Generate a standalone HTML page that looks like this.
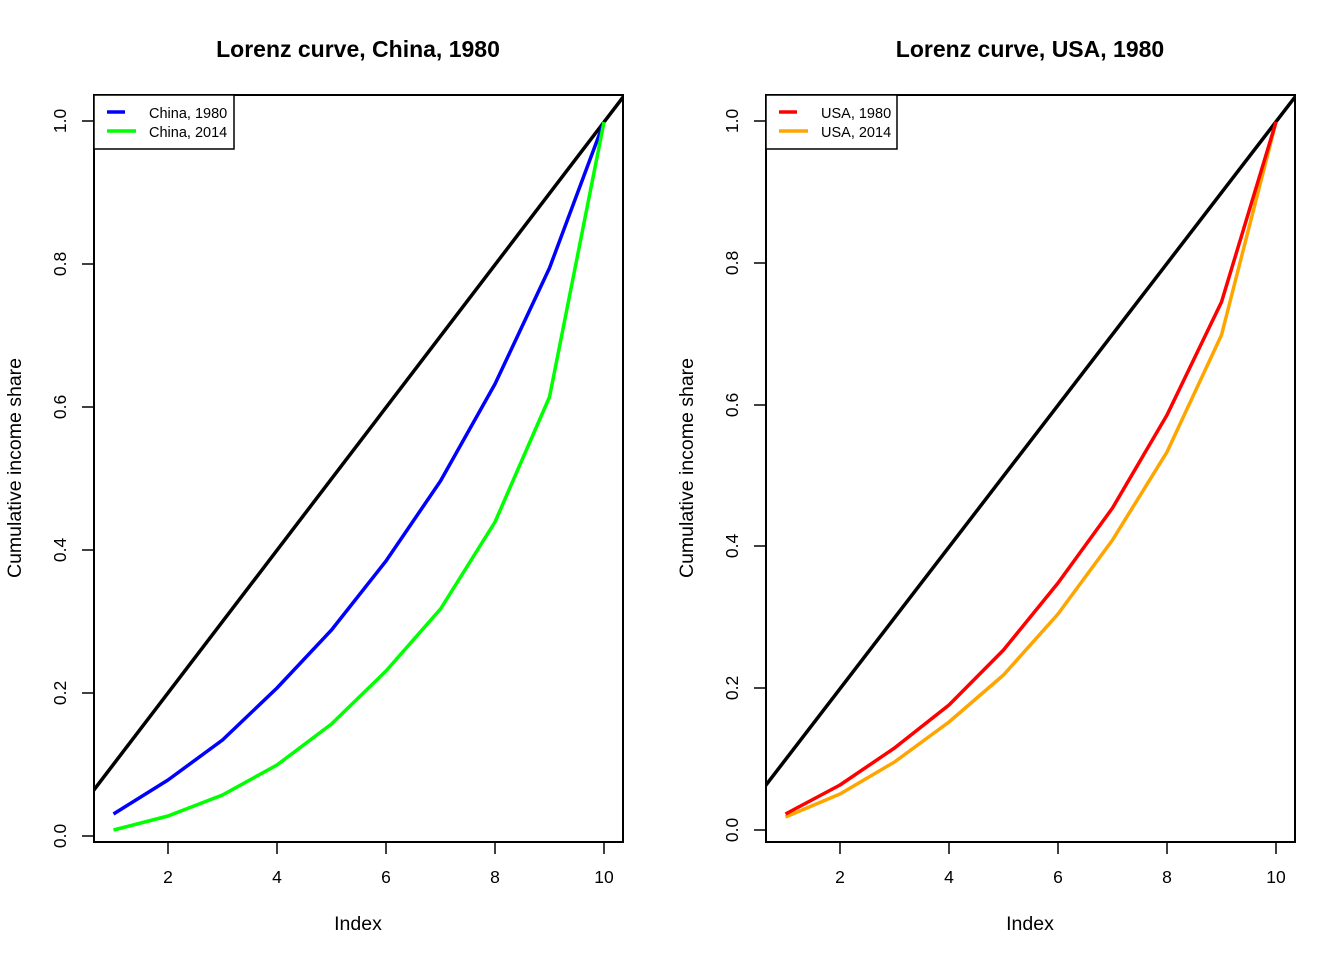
<!DOCTYPE html>
<html><head><style>body{margin:0;background:#fff}svg{display:block}</style></head><body>
<svg width="1344" height="960" xmlns="http://www.w3.org/2000/svg" font-family="Liberation Sans, Arial, sans-serif">
<defs>
<clipPath id="c1"><rect x="94" y="95" width="529" height="747"/></clipPath>
<clipPath id="c2"><rect x="766" y="95" width="529" height="747"/></clipPath>
</defs>
<g id="L">
<text x="358" y="57" font-size="23" font-weight="bold" text-anchor="middle">Lorenz curve, China, 1980</text>
<text x="358" y="930" font-size="19.5" text-anchor="middle">Index</text>
<text transform="translate(21,468) rotate(-90)" font-size="19.5" text-anchor="middle">Cumulative income share</text>
<g stroke="#000" stroke-width="1.5">
<line x1="168" y1="842" x2="168" y2="854"/><line x1="277" y1="842" x2="277" y2="854"/><line x1="386" y1="842" x2="386" y2="854"/><line x1="495" y1="842" x2="495" y2="854"/><line x1="604" y1="842" x2="604" y2="854"/>
<line x1="82" y1="836" x2="94" y2="836"/><line x1="82" y1="693" x2="94" y2="693"/><line x1="82" y1="550" x2="94" y2="550"/><line x1="82" y1="407" x2="94" y2="407"/><line x1="82" y1="264" x2="94" y2="264"/><line x1="82" y1="121" x2="94" y2="121"/>
</g>
<g font-size="17.5" text-anchor="middle">
<text x="168" y="883">2</text><text x="277" y="883">4</text><text x="386" y="883">6</text><text x="495" y="883">8</text><text x="604" y="883">10</text>
<text transform="translate(66,836) rotate(-90)">0.0</text><text transform="translate(66,693) rotate(-90)">0.2</text><text transform="translate(66,550) rotate(-90)">0.4</text><text transform="translate(66,407) rotate(-90)">0.6</text><text transform="translate(66,264) rotate(-90)">0.8</text><text transform="translate(66,121) rotate(-90)">1.0</text>
</g>
<g clip-path="url(#c1)" fill="none" stroke-width="3.5" stroke-linejoin="round">
<line x1="74" y1="816" x2="643" y2="71" stroke="#000"/>
<polyline stroke="#0000ff" points="113.5,814 168,780 222.5,740 277,688 331.5,630 386,561 440.5,481 495,384 549.5,268 604,122"/>
<polyline stroke="#00ff00" points="113.5,830 168,816 222.5,795 277,765 331.5,724 386,671 440.5,609 495,522 549.5,397 604,122"/>
</g>
<rect x="94" y="95" width="529" height="747" fill="none" stroke="#000" stroke-width="2"/>
<rect x="94" y="95" width="140" height="54" fill="#fff" stroke="#000" stroke-width="1.5"/>
<line x1="107" y1="112" x2="125" y2="112" stroke="#0000ff" stroke-width="3.5"/>
<line x1="107" y1="131" x2="136" y2="131" stroke="#00ff00" stroke-width="3.5"/>
<text x="149" y="118" font-size="14.5">China, 1980</text>
<text x="149" y="137" font-size="14.5">China, 2014</text>
</g>
<g id="R">
<text x="1030" y="57" font-size="23" font-weight="bold" text-anchor="middle">Lorenz curve, USA, 1980</text>
<text x="1030" y="930" font-size="19.5" text-anchor="middle">Index</text>
<text transform="translate(693,468) rotate(-90)" font-size="19.5" text-anchor="middle">Cumulative income share</text>
<g stroke="#000" stroke-width="1.5">
<line x1="840" y1="842" x2="840" y2="854"/><line x1="949" y1="842" x2="949" y2="854"/><line x1="1058" y1="842" x2="1058" y2="854"/><line x1="1167" y1="842" x2="1167" y2="854"/><line x1="1276" y1="842" x2="1276" y2="854"/>
<line x1="754" y1="830" x2="766" y2="830"/><line x1="754" y1="688" x2="766" y2="688"/><line x1="754" y1="546" x2="766" y2="546"/><line x1="754" y1="405" x2="766" y2="405"/><line x1="754" y1="263" x2="766" y2="263"/><line x1="754" y1="121" x2="766" y2="121"/>
</g>
<g font-size="17.5" text-anchor="middle">
<text x="840" y="883">2</text><text x="949" y="883">4</text><text x="1058" y="883">6</text><text x="1167" y="883">8</text><text x="1276" y="883">10</text>
<text transform="translate(738,830) rotate(-90)">0.0</text><text transform="translate(738,688) rotate(-90)">0.2</text><text transform="translate(738,546) rotate(-90)">0.4</text><text transform="translate(738,405) rotate(-90)">0.6</text><text transform="translate(738,263) rotate(-90)">0.8</text><text transform="translate(738,121) rotate(-90)">1.0</text>
</g>
<g clip-path="url(#c2)" fill="none" stroke-width="3.5" stroke-linejoin="round">
<line x1="746" y1="811" x2="1315" y2="71" stroke="#000"/>
<polyline stroke="#ffa500" points="785.5,817 840,794 894.5,762 949,722 1003.5,675 1058,614 1112.5,540 1167,452 1221.5,335 1276,122"/>
<polyline stroke="#ff0000" points="785.5,814 840,785 894.5,748 949,705 1003.5,650 1058,583 1112.5,508 1167,415 1221.5,302 1276,122"/>
</g>
<rect x="766" y="95" width="529" height="747" fill="none" stroke="#000" stroke-width="2"/>
<rect x="766" y="95" width="131" height="54" fill="#fff" stroke="#000" stroke-width="1.5"/>
<line x1="779" y1="112" x2="797" y2="112" stroke="#ff0000" stroke-width="3.5"/>
<line x1="779" y1="131" x2="808" y2="131" stroke="#ffa500" stroke-width="3.5"/>
<text x="821" y="118" font-size="14.5">USA, 1980</text>
<text x="821" y="137" font-size="14.5">USA, 2014</text>
</g>
</svg>
</body></html>
